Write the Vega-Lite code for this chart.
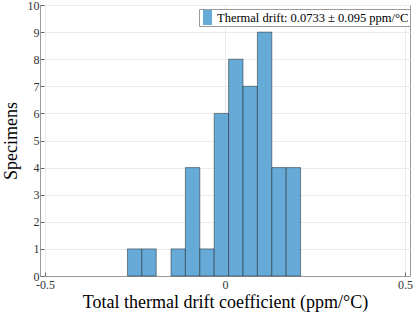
{
  "$schema": "https://vega.github.io/schema/vega-lite/v6.json",
  "width": 370,
  "height": 271,
  "autosize": "none",
  "padding": {"left": 40, "top": 5, "right": 9, "bottom": 40},
  "background": "white",
  "config": {
    "font": "Liberation Serif",
    "axis": {"labelFont": "Liberation Serif", "titleFont": "Liberation Serif"},
    "legend": {"labelFont": "Liberation Serif"},
    "view": {"stroke": "#9a9a9a", "strokeWidth": 1}
  },
  "data": {
    "values": [
      {"start": -0.271, "end": -0.231, "count": 1, "series": "Thermal drift: 0.0733 ± 0.095 ppm/°C"},
      {"start": -0.231, "end": -0.191, "count": 1, "series": "Thermal drift: 0.0733 ± 0.095 ppm/°C"},
      {"start": -0.150, "end": -0.110, "count": 1, "series": "Thermal drift: 0.0733 ± 0.095 ppm/°C"},
      {"start": -0.110, "end": -0.070, "count": 4, "series": "Thermal drift: 0.0733 ± 0.095 ppm/°C"},
      {"start": -0.070, "end": -0.030, "count": 1, "series": "Thermal drift: 0.0733 ± 0.095 ppm/°C"},
      {"start": -0.030, "end": 0.010, "count": 6, "series": "Thermal drift: 0.0733 ± 0.095 ppm/°C"},
      {"start": 0.010, "end": 0.050, "count": 8, "series": "Thermal drift: 0.0733 ± 0.095 ppm/°C"},
      {"start": 0.050, "end": 0.090, "count": 7, "series": "Thermal drift: 0.0733 ± 0.095 ppm/°C"},
      {"start": 0.090, "end": 0.130, "count": 9, "series": "Thermal drift: 0.0733 ± 0.095 ppm/°C"},
      {"start": 0.130, "end": 0.170, "count": 4, "series": "Thermal drift: 0.0733 ± 0.095 ppm/°C"},
      {"start": 0.170, "end": 0.210, "count": 4, "series": "Thermal drift: 0.0733 ± 0.095 ppm/°C"}
    ]
  },
  "mark": {"type": "bar", "orient": "vertical", "stroke": "#1a1a1a", "strokeWidth": 0.6, "strokeOpacity": 0.8, "opacity": 1},
  "encoding": {
    "x": {
      "field": "start", "type": "quantitative",
      "scale": {"domain": [-0.5, 0.5], "nice": false, "zero": false},
      "axis": {
        "title": "Total thermal drift coefficient (ppm/°C)",
        "titleFontSize": 18, "titleFontWeight": "normal", "titleColor": "#000",
        "titlePadding": 3,
        "values": [-0.5, 0, 0.5],
        "labelExpr": "replace(format(datum.value, '~g'), '−', '-')",
        "labelFont": "Liberation Serif",
        "labelFontSize": 12, "labelColor": "#333", "labelPadding": 7,
        "labelFlush": false, "labelOverlap": false,
        "tickSize": -4, "tickColor": "#666",
        "domainColor": "#9a9a9a",
        "gridColor": "#ebebeb", "grid": true
      }
    },
    "x2": {"field": "end"},
    "y": {
      "field": "count", "type": "quantitative",
      "scale": {"domain": [0, 10], "nice": false},
      "axis": {
        "title": "Specimens",
        "titleFontSize": 18, "titleFontWeight": "normal", "titleColor": "#000",
        "titlePadding": 7,
        "values": [0, 1, 2, 3, 4, 5, 6, 7, 8, 9, 10],
        "labelFont": "Liberation Serif",
        "labelFontSize": 12, "labelColor": "#333", "labelPadding": 5,
        "labelFlush": false, "labelOverlap": false,
        "tickSize": -4, "tickColor": "#666",
        "domainColor": "#9a9a9a",
        "gridColor": "#ebebeb", "grid": true
      }
    },
    "y2": {"datum": 0},
    "color": {
      "field": "series", "type": "nominal",
      "scale": {"range": ["#66aad7"]},
      "legend": {
        "title": null,
        "orient": "none",
        "legendX": 159,
        "legendY": 4,
        "fillColor": "white",
        "strokeColor": "#9a9a9a",
        "padding": 1,
        "symbolType": "M-0.6,-1H0.6V1H-0.6Z",
        "symbolSize": 225,
        "symbolStrokeWidth": 0,
        "symbolOpacity": 1,
        "labelFontSize": 12.5,
        "labelColor": "#000",
        "labelOffset": 2,
        "labelLimit": 400
      }
    }
  }
}
